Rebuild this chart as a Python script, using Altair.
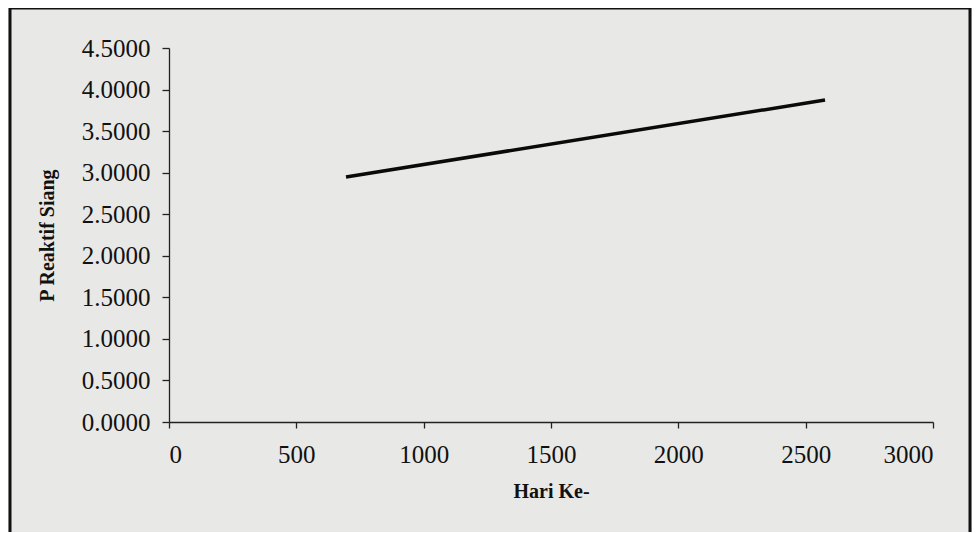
import altair as alt
import pandas as pd

# Data (linear trend line)
hari = [695, 2576]
p_reaktif = [2.948, 3.874]

df = pd.DataFrame({"Hari Ke-": hari, "P Reaktif Siang": p_reaktif})

W, H = 764, 374
FONT = "Liberation Serif"

frame = alt.Chart(pd.DataFrame({"a": [0]})).mark_rect(
    fill=None, stroke="#111111", strokeWidth=3
).encode(
    x=alt.value(-159), x2=alt.value(W + 37),
    y=alt.value(-40), y2=alt.value(H + 120),
)

line = alt.Chart(df).mark_line(color="#0a0a0a", strokeWidth=3.5).encode(
    x=alt.X("Hari Ke-:Q",
            scale=alt.Scale(domain=[0, 3000], nice=False),
            axis=alt.Axis(values=[0, 500, 1000, 1500, 2000, 2500, 3000],
                          format="d", title="Hari Ke-", grid=False,
                          labelFontSize=25, labelPadding=14,
                          titleFontSize=20, titleFontWeight="bold",
                          titlePadding=14, tickSize=6)),
    y=alt.Y("P Reaktif Siang:Q",
            scale=alt.Scale(domain=[0, 4.5], nice=False),
            axis=alt.Axis(values=[0, 0.5, 1, 1.5, 2, 2.5, 3, 3.5, 4, 4.5],
                          format=".4f", title="P Reaktif Siang", grid=False,
                          labelFontSize=25, labelPadding=12,
                          titleFontSize=20, titleFontWeight="bold",
                          titlePadding=24, tickSize=7)),
)

chart = alt.layer(frame, line).properties(
    width=W, height=H,
    autosize=alt.AutoSizeParams(type="none"),
    padding={"left": 161, "top": 40, "right": 39, "bottom": 110},
    background="#e8e8e6",
).configure_view(stroke=None).configure_axis(
    labelFont=FONT, titleFont=FONT, labelColor="#111111", titleColor="#111111",
    domainColor="#222222", tickColor="#222222", domainWidth=1.3, tickWidth=1.3,
)

chart.save("out.html", embed_options={"renderer": "svg", "actions": False})
